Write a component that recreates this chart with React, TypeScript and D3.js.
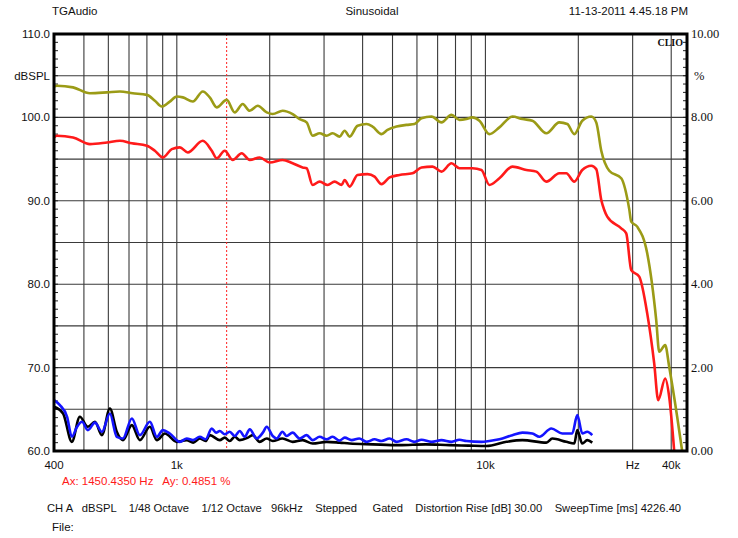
import React, { useEffect, useRef } from "react";
import { select, scaleLog, scaleLinear, line, curveMonotoneX, range, format } from "d3";

// response curves: [Hz, dBSPL]
const oliveCurve: [number, number][] = [
  [400, 103.7], [409, 103.8], [461, 103.6], [523, 102.9], [594, 103.0], [654, 103.1],
  [720, 102.9], [800, 102.7], [849, 102.0], [894, 101.3], [949, 101.9], [1000, 102.5],
  [1046, 102.4], [1127, 101.9], [1214, 103.1], [1279, 102.4], [1347, 101.2], [1451, 102.1],
  [1541, 100.6], [1635, 101.6], [1723, 100.8], [1829, 101.4], [1956, 100.6], [2045, 100.4],
  [2203, 100.8], [2373, 100.4], [2501, 99.8], [2634, 99.4], [2755, 97.8], [2903, 98.1],
  [3058, 97.8], [3198, 98.1], [3369, 97.7], [3498, 98.4], [3631, 97.7], [3853, 99.0],
  [4120, 99.2], [4308, 98.9], [4607, 98.0], [4818, 98.5], [5152, 98.9], [5550, 99.1],
  [5890, 99.2], [6206, 99.9], [6688, 100.1], [7205, 99.4], [7762, 100.3], [8238, 99.7],
  [8680, 99.8], [9078, 100.0], [9563, 99.6], [10302, 98.0], [11099, 98.8], [12229, 100.1],
  [13177, 99.8], [14196, 99.6], [15754, 98.1], [17359, 99.4], [18424, 99.2], [19409, 98.0],
  [20600, 99.6], [22029, 100.1], [22866, 99.4], [23736, 96.0], [25194, 93.6], [27549, 92.7],
  [29243, 89.0], [29683, 87.5], [31038, 86.9], [33442, 83.7], [35765, 75.7], [36576, 71.9],
  [38240, 72.7], [39400, 70.1], [41820, 64.1], [43400, 60.0],
];

const redCurve: [number, number][] = [
  [400, 97.6], [409, 97.8], [461, 97.6], [523, 96.8], [594, 97.0], [654, 97.2],
  [715, 96.9], [800, 96.6], [849, 96.0], [901, 95.2], [963, 96.2], [1023, 96.4],
  [1085, 95.8], [1214, 97.2], [1298, 96.0], [1347, 95.1], [1430, 96.0], [1518, 94.9],
  [1623, 95.7], [1723, 94.9], [1856, 95.2], [2000, 94.6], [2203, 94.9], [2373, 94.5],
  [2557, 94.0], [2634, 93.9], [2755, 91.9], [2903, 92.3], [3081, 91.9], [3246, 92.3],
  [3420, 91.9], [3498, 92.5], [3631, 91.7], [3853, 93.1], [4150, 93.2], [4373, 92.9],
  [4607, 92.0], [4891, 92.8], [5268, 93.1], [5803, 93.3], [6206, 94.0], [6739, 94.1],
  [7205, 93.5], [7762, 94.5], [8238, 93.9], [9078, 93.9], [9707, 93.7], [10302, 91.9],
  [11099, 92.7], [12229, 94.1], [13576, 93.7], [14622, 93.5], [15754, 92.3], [17359, 93.3],
  [18287, 93.3], [19409, 92.3], [20600, 93.7], [22029, 94.2], [22866, 93.8], [23736, 90.1],
  [24273, 88.9], [24821, 88.1], [27549, 86.7], [28597, 86.1], [29683, 81.7], [31506, 80.9],
  [33442, 76.5], [35233, 70.5], [36307, 66.1], [38240, 68.7], [39400, 66.5], [40900, 60.0],
];

// distortion: [Hz, %]
const blueDist: [number, number][] = [
  [400, 1.22], [418, 1.10], [441, 0.82], [457, 0.34], [475, 0.58], [493, 0.70],
  [515, 0.50], [543, 0.68], [572, 0.46], [607, 0.90], [639, 0.34], [669, 0.30],
  [715, 0.78], [759, 0.38], [818, 0.70], [862, 0.34], [901, 0.50], [949, 0.42],
  [1023, 0.22], [1077, 0.30], [1127, 0.26], [1187, 0.34], [1240, 0.28], [1298, 0.54],
  [1340, 0.44], [1378, 0.48], [1430, 0.40], [1484, 0.46], [1541, 0.36], [1599, 0.48],
  [1660, 0.34], [1723, 0.52], [1815, 0.30], [1900, 0.44], [1956, 0.58], [2045, 0.36],
  [2107, 0.30], [2200, 0.46], [2270, 0.36], [2373, 0.44], [2501, 0.30], [2634, 0.38],
  [2755, 0.26], [2903, 0.34], [3058, 0.28], [3198, 0.34], [3369, 0.25], [3500, 0.32],
  [3686, 0.26], [3900, 0.30], [4120, 0.22], [4373, 0.28], [4607, 0.24], [4891, 0.30],
  [5152, 0.22], [5550, 0.28], [5890, 0.22], [6206, 0.27], [6688, 0.22], [7205, 0.26],
  [7762, 0.22], [8238, 0.27], [8680, 0.24], [9707, 0.22], [10302, 0.24], [11099, 0.28],
  [12229, 0.38], [13177, 0.44], [14196, 0.42], [14955, 0.34], [16354, 0.54], [17752, 0.42],
  [19120, 0.42], [19846, 0.86], [20600, 0.42], [21382, 0.46], [22194, 0.38],
];

const blackDist: [number, number][] = [
  [400, 1.06], [428, 0.90], [457, 0.22], [485, 0.82], [515, 0.58], [543, 0.70],
  [572, 0.38], [607, 1.02], [639, 0.46], [669, 0.26], [715, 0.62], [759, 0.26],
  [818, 0.58], [862, 0.26], [915, 0.42], [1000, 0.22], [1077, 0.26], [1130, 0.20],
  [1187, 0.30], [1240, 0.24], [1279, 0.38], [1378, 0.26], [1430, 0.32], [1484, 0.24],
  [1541, 0.34], [1599, 0.26], [1700, 0.32], [1762, 0.38], [1856, 0.22], [1956, 0.30],
  [2045, 0.24], [2200, 0.30], [2373, 0.22], [2557, 0.26], [2755, 0.18], [3058, 0.22],
  [3369, 0.20], [3631, 0.18], [4308, 0.16], [5268, 0.14], [6400, 0.16], [7647, 0.14],
  [8800, 0.13], [10075, 0.12], [11695, 0.22], [13177, 0.26], [15754, 0.20], [16477, 0.30],
  [18287, 0.22], [19409, 0.18], [19846, 0.50], [20600, 0.18], [21382, 0.26], [22194, 0.20],
];

const gridFreqs = [500, 600, 700, 800, 900, 1000, 2000, 3000, 4000, 5000, 6000, 7000, 8000, 9000, 10000, 20000, 30000, 40000];
const freqLabels: [number, string][] = [[400, "400"], [1000, "1k"], [10000, "10k"], [30000, "Hz"], [40000, "40k"]];
const dbTicks = [60, 70, 80, 90, 100, 110];
const pctTicks = [0, 2, 4, 6, 8, 10];
const cursorFreq = 1450.435;

const W = 738;
const H = 538;
const margin = { left: 54, right: 51, top: 34, bottom: 87 };
const FONT = "'Liberation Sans', Arial, sans-serif";
const SERIF = "'Liberation Serif', 'DejaVu Serif', serif";

function App() {
  const svgRef = useRef<SVGSVGElement>(null);

  useEffect(() => {
    const svg = select(svgRef.current);
    svg.selectAll("*").remove();

    const x0 = margin.left;
    const x1 = W - margin.right;
    const y0 = margin.top;
    const y1 = H - margin.bottom;

    const xScale = scaleLog().domain([400, 45000]).range([x0, x1]);
    const yDb = scaleLinear().domain([60, 110]).range([y1, y0]);
    const yPct = scaleLinear().domain([0, 10]).range([y1, y0]);

    svg.append("rect").attr("width", W).attr("height", H).attr("fill", "#fff");

    svg.append("clipPath").attr("id", "plot")
      .append("rect").attr("x", x0).attr("y", y0).attr("width", x1 - x0).attr("height", y1 - y0);

    // grid
    const grid = svg.append("g").attr("stroke", "#3a3a3a").attr("stroke-width", 1.1);
    gridFreqs.forEach(f => {
      grid.append("line").attr("x1", xScale(f)).attr("x2", xScale(f)).attr("y1", y0).attr("y2", y1);
    });
    range(65, 110, 5).forEach(d => {
      grid.append("line").attr("x1", x0).attr("x2", x1).attr("y1", yDb(d)).attr("y2", yDb(d));
    });

    // minor ticks on both side axes
    const ticks = svg.append("g").attr("stroke", "#222").attr("stroke-width", 1);
    range(60, 111, 1).forEach(d => {
      ticks.append("line").attr("x1", x0).attr("x2", x0 + 4).attr("y1", yDb(d)).attr("y2", yDb(d));
      ticks.append("line").attr("x1", x1 - 4).attr("x2", x1).attr("y1", yDb(d)).attr("y2", yDb(d));
    });

    // cursor
    svg.append("line")
      .attr("x1", xScale(cursorFreq)).attr("x2", xScale(cursorFreq))
      .attr("y1", y0).attr("y2", y1)
      .attr("stroke", "#ff2020").attr("stroke-width", 1).attr("stroke-dasharray", "2,2");

    const dbLine = line<[number, number]>()
      .x(d => xScale(d[0])).y(d => yDb(d[1])).curve(curveMonotoneX);
    const pctLine = line<[number, number]>()
      .x(d => xScale(d[0])).y(d => yPct(d[1])).curve(curveMonotoneX);

    const plot = svg.append("g").attr("clip-path", "url(#plot)").attr("fill", "none")
      .attr("stroke-width", 2.6).attr("stroke-linejoin", "round");
    plot.append("path").attr("d", pctLine(blackDist)).attr("stroke", "#000");
    plot.append("path").attr("d", pctLine(blueDist)).attr("stroke", "#1414ff");
    plot.append("path").attr("d", dbLine(oliveCurve)).attr("stroke", "#9b9b16");
    plot.append("path").attr("d", dbLine(redCurve)).attr("stroke", "#ff1a1a");

    // frame
    svg.append("rect")
      .attr("x", x0).attr("y", y0).attr("width", x1 - x0).attr("height", y1 - y0)
      .attr("fill", "none").attr("stroke", "#000").attr("stroke-width", 3);

    const text = svg.append("g").attr("font-family", FONT).attr("font-size", 11.5).attr("fill", "#111");

    text.append("text").attr("x", 52).attr("y", 15).text("TGAudio");
    text.append("text").attr("x", 372).attr("y", 15).attr("text-anchor", "middle").text("Sinusoidal");
    text.append("text").attr("x", 688).attr("y", 15).attr("text-anchor", "end").text("11-13-2011 4.45.18 PM");

    const f1 = format(".1f");
    dbTicks.forEach(d => {
      text.append("text").attr("x", 50).attr("y", yDb(d) + 4).attr("text-anchor", "end").text(f1(d));
    });
    text.append("text").attr("x", 50).attr("y", yDb(105) + 4).attr("text-anchor", "end").text("dBSPL");

    const f2 = format(".2f");
    const right = svg.append("g").attr("font-family", SERIF).attr("font-size", 12.5).attr("fill", "#111");
    pctTicks.forEach(d => {
      right.append("text").attr("x", 691).attr("y", yPct(d) + 4).text(f2(d));
    });
    right.append("text").attr("x", 694).attr("y", yPct(9) + 4).text("%");

    freqLabels.forEach(([f, l]) => {
      text.append("text").attr("x", xScale(f)).attr("y", 469).attr("text-anchor", "middle").text(l);
    });

    text.append("text").attr("x", 62).attr("y", 485).attr("fill", "#ff1a1a").attr("xml:space", "preserve")
      .text("Ax: 1450.4350 Hz   Ay: 0.4851 %");
    text.append("text").attr("x", 47).attr("y", 512).attr("xml:space", "preserve").attr("font-size", 11.2)
      .text("CH A   dBSPL    1/48 Octave    1/12 Octave   96kHz    Stepped     Gated    Distortion Rise [dB] 30.00    SweepTime [ms] 4226.40");
    text.append("text").attr("x", 52).attr("y", 531).text("File:");

    svg.append("text")
      .attr("x", 683).attr("y", 46).attr("text-anchor", "end")
      .attr("font-family", SERIF)
      .attr("font-weight", "bold").attr("font-size", 10).attr("fill", "#111")
      .text("CLIO");
  }, []);

  return (
    <svg ref={svgRef} width={W} height={H}
      style={{ position: "absolute", left: 0, top: 0, display: "block" }} />
  );
}

export default App;
